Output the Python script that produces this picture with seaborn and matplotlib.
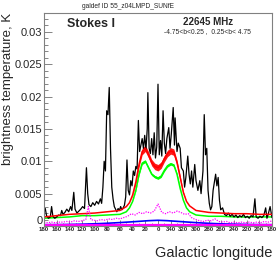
import numpy as np
import pandas as pd
import matplotlib
matplotlib.use('Agg')
import matplotlib.pyplot as plt
import seaborn as sns
from matplotlib.ticker import MultipleLocator

# ============================================================
# DATA
# ============================================================

# observed sky (black)
data_lon = [180, 178, 176, 173, 170, 168, 166, 163, 160, 157, 154, 152, 150, 147,
            144, 141, 138, 136, 133, 131, 128, 125, 122, 119, 116, 113, 111, 109,
            106, 103, 100, 97, 94, 91, 89, 87, 85, 83, 81, 79, 77, 75, 73, 71,
            69, 67, 65, 63, 61, 59, 57, 55, 53, 51, 49, 47, 45, 43, 41, 39, 37,
            35, 33, 31, 29, 27, 25, 23, 21, 19, 17, 16, 14, 12, 10, 8, 6, 4, 2,
            0, -2, -4, -6, -8, -10, -12, -14, -17, -19, -21, -24, -26, -27, -30,
            -32, -35, -37, -40, -42, -44, -47, -49, -51, -53, -55, -58, -60, -63,
            -66, -68, -71, -73, -75, -77, -79, -81, -83, -85, -87, -89, -91, -93,
            -95, -97, -99, -102, -105, -108, -111, -114, -117, -120, -123, -126,
            -129, -132, -135, -138, -141, -144, -147, -150, -153, -155, -158,
            -161, -164, -167, -170, -172, -174, -177, -180]
data_tb = [0.0022, 0.0027, 0.0016, 0.0012, 0.0014, 0.0030, 0.0015, 0.0012, 0.0014,
           0.0017, 0.0016, 0.0024, 0.0018, 0.0021, 0.0026, 0.0022, 0.0030, 0.0024,
           0.0052, 0.0026, 0.0020, 0.0023, 0.0026, 0.0030, 0.0027, 0.0090, 0.0050,
           0.0033, 0.0030, 0.0036, 0.0032, 0.0038, 0.0034, 0.0042, 0.0035, 0.0060,
           0.0100, 0.0085, 0.0178, 0.0172, 0.0214, 0.0120, 0.0060, 0.0042, 0.0030,
           0.0026, 0.0022, 0.0027, 0.0024, 0.0030, 0.0025, 0.0028, 0.0032, 0.0045,
           0.0102, 0.0055, 0.0048, 0.0070, 0.0062, 0.0085, 0.0078, 0.0092, 0.0088,
           0.0163, 0.0115, 0.0125, 0.0135, 0.0120, 0.0140, 0.0118, 0.0150, 0.0206,
           0.0120, 0.0112, 0.0135, 0.0110, 0.0144, 0.0105, 0.0122, 0.0219, 0.0110,
           0.0132, 0.0108, 0.0178, 0.0128, 0.0112, 0.0135, 0.0152, 0.0120, 0.0142,
           0.0183, 0.0125, 0.0167, 0.0115, 0.0128, 0.0120, 0.0090, 0.0085, 0.0060,
           0.0075, 0.0108, 0.0080, 0.0065, 0.0085, 0.0060, 0.0095, 0.0070, 0.0055,
           0.0070, 0.0050, 0.0085, 0.0172, 0.0110, 0.0120, 0.0055, 0.0035, 0.0025,
           0.0030, 0.0055, 0.0068, 0.0080, 0.0062, 0.0075, 0.0040, 0.0025, 0.0028,
           0.0018, 0.0016, 0.0020, 0.0015, 0.0018, 0.0014, 0.0017, 0.0013, 0.0016,
           0.0014, 0.0018, 0.0013, 0.0015, 0.0012, 0.0016, 0.0014, 0.0042, 0.0014,
           0.0012, 0.0015, 0.0013, 0.0016, 0.0028, 0.0012, 0.0018, 0.0030, 0.0013]

# total model (red) and model without one component (green)
model_lon = [180, 160, 140, 120, 100, 80, 60, 50, 45, 40, 35, 30, 25, 20, 15, 10,
             5, 0, -5, -10, -15, -20, -25, -30, -35, -40, -45, -50, -60, -80,
             -100, -120, -140, -160, -180]
red_tb = [0.0014, 0.0016, 0.0018, 0.0019, 0.0020, 0.0022, 0.0024, 0.0030, 0.0036,
          0.0048, 0.0068, 0.0095, 0.0115, 0.0120, 0.0110, 0.0098, 0.0092, 0.0090,
          0.0094, 0.0104, 0.0112, 0.0116, 0.0114, 0.0098, 0.0075, 0.0052, 0.0038,
          0.0031, 0.0024, 0.0021, 0.0020, 0.0019, 0.0019, 0.0018, 0.0018]
red_spread = [0, 0, 0, 0, 0, 0, 0, 0, 0, 0.0001, 0.0003, 0.0004, 0.0005,
              0.0005, 0.0005, 0.0005, 0.0005, 0.0005, 0.0005, 0.0005, 0.0005,
              0.0005, 0.0005, 0.0004, 0.0003, 0.0001, 0, 0, 0, 0, 0, 0, 0,
              0, 0]
green_tb = [0.0012, 0.0013, 0.0014, 0.0016, 0.0016, 0.0017, 0.0018, 0.0022, 0.0028,
            0.0038, 0.0055, 0.0080, 0.0097, 0.0100, 0.0090, 0.0080, 0.0076, 0.0074,
            0.0077, 0.0086, 0.0093, 0.0096, 0.0094, 0.0080, 0.0058, 0.0040, 0.0028,
            0.0022, 0.0017, 0.0015, 0.0015, 0.0014, 0.0014, 0.0014, 0.0014]
green_spread = [0, 0, 0, 0, 0, 0, 0, 0, 0, 0, 0.0001, 0.0002, 0.0002, 0.0002,
                0.0002, 0.0002, 0.0002, 0.0002, 0.0002, 0.0002, 0.0002, 0.0002,
                0.0002, 0.0002, 0.0001, 0, 0, 0, 0, 0, 0, 0, 0, 0, 0]

# dotted magenta component
dot_lon = [180, 174, 168, 162, 156, 150, 144, 138, 132, 126, 120, 114, 110, 106,
           102, 96, 90, 84, 78, 72, 66, 60, 54, 48, 42, 36, 30, 24, 18, 12, 6, 0,
           -6, -12, -18, -24, -30, -36, -42, -48, -54, -60, -66, -72, -78, -84,
           -90, -96, -102, -108, -114, -120, -126, -132, -138, -144, -150, -156,
           -162, -168, -174, -180]
dot_tb = [0.0006, 0.0005, 0.0006, 0.0005, 0.0006, 0.0006, 0.0007, 0.0006, 0.0008,
          0.0007, 0.0008, 0.0010, 0.0030, 0.0010, 0.0009, 0.0008, 0.0010, 0.0009,
          0.0011, 0.0010, 0.0012, 0.0011, 0.0013, 0.0015, 0.0019, 0.0017, 0.0021,
          0.0019, 0.0022, 0.0020, 0.0023, 0.0034, 0.0021, 0.0019, 0.0022, 0.0020,
          0.0023, 0.0021, 0.0018, 0.0019, 0.0012, 0.0010, 0.0008, 0.0007, 0.0009,
          0.0008, 0.0011, 0.0007, 0.0006, 0.0007, 0.0005, 0.0006, 0.0005, 0.0006,
          0.0005, 0.0006, 0.0005, 0.0006, 0.0005, 0.0007, 0.0006, 0.0008]

# smooth blue component
blue_lon = [180, 165, 150, 135, 120, 105, 90, 75, 60, 45, 30, 15, 0, -15, -30,
            -45, -60, -75, -90, -105, -120, -135, -150, -165, -180]
blue_tb = [0.00020, 0.00021, 0.00022, 0.00025, 0.00028, 0.00033, 0.00038, 0.00045,
           0.00053, 0.00062, 0.00072, 0.00082, 0.00088, 0.00082, 0.00072, 0.00062,
           0.00052, 0.00044, 0.00037, 0.00032, 0.00028, 0.00025, 0.00022, 0.00021,
           0.00020]

# magenta baseline
base_lon = [180, -180]
base_tb = [0.0001, 0.0001]

lon_ticks = list(range(180, -181, -20))
lon_labels = [str(l % 360) for l in lon_ticks]

# ============================================================
# PLOT
# ============================================================

sns.set_style('white')
plt.rcParams['font.family'] = ['Liberation Sans', 'DejaVu Sans']

fig = plt.figure(figsize=(2.78, 2.67), dpi=100)
ax = fig.add_axes([44 / 278, 1 - 226 / 267, 228 / 278, 213 / 267])

model = pd.DataFrame({
    'lon': model_lon,
    'red': red_tb,
    'green': green_tb,
    'red_sp': red_spread,
    'green_sp': green_spread,
})

ax.fill_between(model['lon'], model['green'] - model['green_sp'],
                model['green'] + model['green_sp'], color='#00ff00', lw=0)
sns.lineplot(data=model, x='lon', y='green', ax=ax, color='#00ff00',
             lw=1.1, estimator=None)

sns.lineplot(x=data_lon, y=data_tb, ax=ax, color='black', lw=0.9,
             estimator=None, sort=False)

ax.fill_between(model['lon'], model['red'] - model['red_sp'],
                model['red'] + model['red_sp'], color='#ff0000', lw=0,
                alpha=0.9)
sns.lineplot(data=model, x='lon', y='red', ax=ax, color='#ff0000',
             lw=1.1, estimator=None)

sns.lineplot(x=dot_lon, y=dot_tb, ax=ax, color='#ff00ff', lw=0.9,
             linestyle=(0, (1, 1)), estimator=None, sort=False)
sns.lineplot(x=blue_lon, y=blue_tb, ax=ax, color='#0000ff', lw=1.2,
             estimator=None, sort=False)
sns.lineplot(x=base_lon, y=base_tb, ax=ax, color='#ff00ff', lw=1.6,
             estimator=None, sort=False)

ax.set_xlim(180, -180)
ax.set_ylim(0, 0.0329)

ax.set_xticks(lon_ticks)
ax.set_xticklabels(lon_labels, fontsize=4.3, fontweight='bold')
ax.xaxis.set_minor_locator(MultipleLocator(10))
ax.yaxis.set_minor_locator(MultipleLocator(0.001))
ax.set_yticks([0, 0.005, 0.01, 0.015, 0.02, 0.025, 0.03])
ax.set_yticklabels(['0', '0.005', '0.01', '0.015', '0.02', '0.025', '0.03'],
                   fontsize=8)
# lift the "0" label a touch so it sits just above the longitude labels
ax.get_yticklabels()[0].set_verticalalignment('bottom')

ax.tick_params(axis='both', which='both', direction='in', color='#707070',
               left=True, bottom=True)
ax.tick_params(axis='y', which='major', length=6, width=0.6, pad=1)
ax.tick_params(axis='y', which='minor', length=3, width=0.6)
ax.tick_params(axis='x', which='major', length=4, width=0.6, pad=1)
ax.tick_params(axis='x', which='minor', length=2, width=0.6)

for s in ax.spines.values():
    s.set_color('#808080')
    s.set_linewidth(0.8)

ax.set_xlabel('')
ax.set_ylabel('')
fig.text(0.03, 1 - 13 / 267, 'brightness temperature, K', rotation=90,
         ha='center', va='top', fontsize=9.5)
fig.text(272 / 278, 1 - 253 / 267, 'Galactic longitude', ha='right',
         va='center', fontsize=10.5)

fig.text(128 / 278, 1 - 6 / 267, 'galdef ID 55_z04LMPD_SUNfE', ha='center',
         va='center', fontsize=4.8)
fig.text(67 / 278, 1 - 24 / 267, 'Stokes I', ha='left', va='center',
         fontsize=9, fontweight='bold')
fig.text(208 / 278, 1 - 22 / 267, '22645 MHz', ha='center', va='center',
         fontsize=7, fontweight='bold')
fig.text(207 / 278, 1 - 32 / 267, '-4.75<b<0.25 ,  0.25<b< 4.75',
         ha='center', va='center', fontsize=4.8)

fig.savefig('out.png', dpi=100)
plt.close(fig)
